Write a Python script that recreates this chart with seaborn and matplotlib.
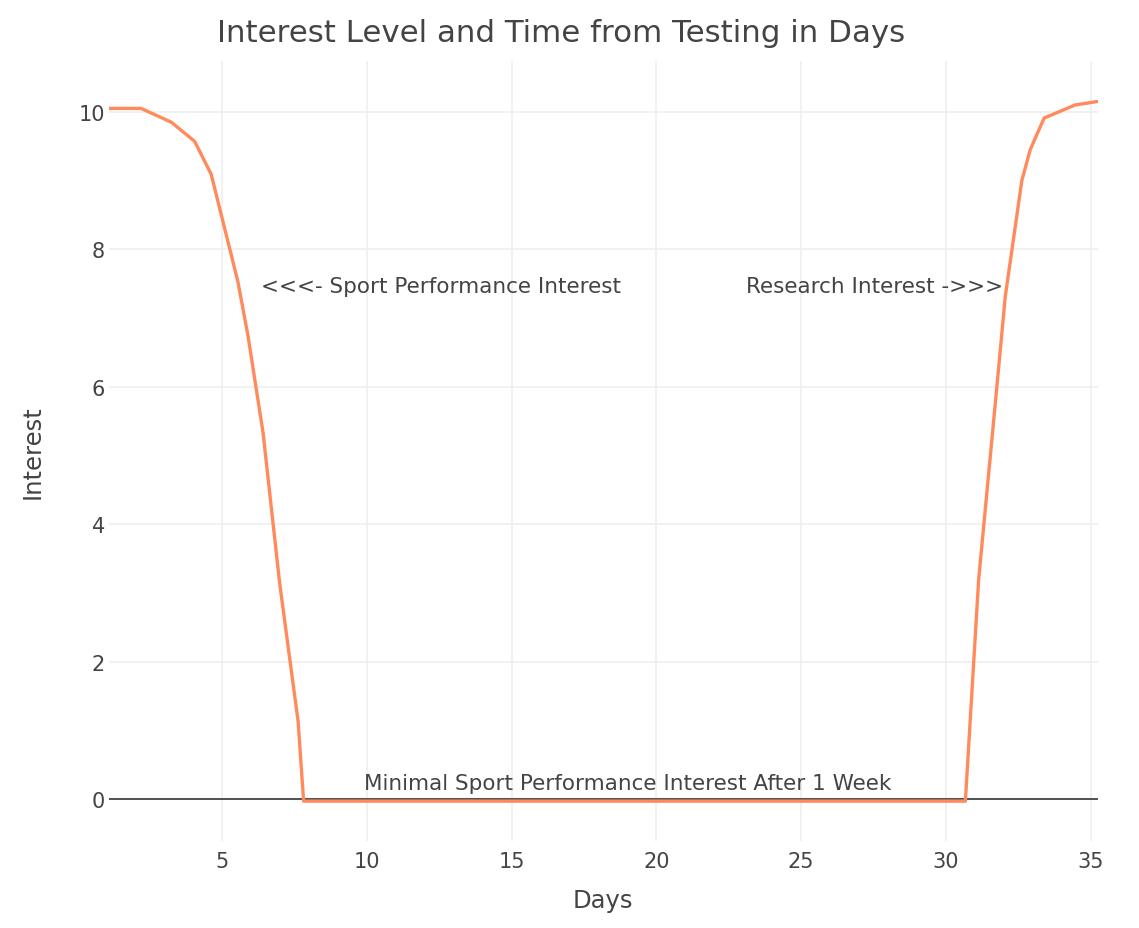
import matplotlib
matplotlib.use("Agg")
import matplotlib.pyplot as plt
import seaborn as sns
import pandas as pd

days = [1.13, 2.21, 3.25, 4.06, 4.63, 5.55, 5.90, 6.42, 6.99, 7.63, 7.82,
        30.67, 31.13, 31.76, 32.05, 32.62, 32.91, 33.39, 34.46, 35.22]
interest = [10.05, 10.05, 9.85, 9.57, 9.09, 7.53, 6.74, 5.33, 3.15, 1.13, -0.03,
            -0.03, 3.2, 6.01, 7.32, 9.0, 9.45, 9.91, 10.10, 10.15]
x_ticks = [5, 10, 15, 20, 25, 30, 35]
y_ticks = [0, 2, 4, 6, 8, 10]
notes = ["<<<- Sport Performance Interest", "Research Interest ->>>",
         "Minimal Sport Performance Interest After 1 Week"]
note_x = [12.57, 27.53, 19.02]
note_y = [7.47, 7.47, 0.23]

df = pd.DataFrame({"Days": days, "Interest": interest})

sns.set_theme(style="whitegrid")
plt.rcParams["font.family"] = ["DejaVu Sans"]
text_color = "#444444"

fig = plt.figure(figsize=(11.39, 9.29), dpi=100)
ax = fig.add_axes([109/1139, 1-842/929, (1098-109)/1139, (842-62)/929])

ax.axhline(0, color="#444444", lw=1.3, zorder=2)
sns.lineplot(data=df, x="Days", y="Interest", sort=False, ax=ax,
             color="#FF8A5C", lw=2.4, zorder=3)

ax.set_xlim(1.10, 35.25)
ax.set_ylim(-0.61, 10.74)
ax.set_xticks(x_ticks)
ax.set_yticks(y_ticks)
ax.grid(True, color="#EEEEEE", lw=1.1)
for s in ax.spines.values():
    s.set_visible(False)
ax.tick_params(axis="both", length=0, labelsize=15, labelcolor=text_color)
ax.tick_params(axis="x", pad=7)
ax.tick_params(axis="y", pad=3)
ax.set_xlabel("")
ax.set_ylabel("")

for t, xx, yy in zip(notes, note_x, note_y):
    ax.text(xx, yy, t, ha="center", va="center", fontsize=15.5, color=text_color)

fig.text(561/1139, 1-33/929, "Interest Level and Time from Testing in Days",
         ha="center", va="center", fontsize=22.2, color=text_color)
fig.text(603/1139, 1-901/929, "Days", ha="center", va="center",
         fontsize=17.5, color=text_color)
fig.text(33/1139, 1-452/929, "Interest", ha="center", va="center",
         rotation=90, fontsize=17.5, color=text_color)

fig.savefig("out.png", dpi=100, facecolor="white")
